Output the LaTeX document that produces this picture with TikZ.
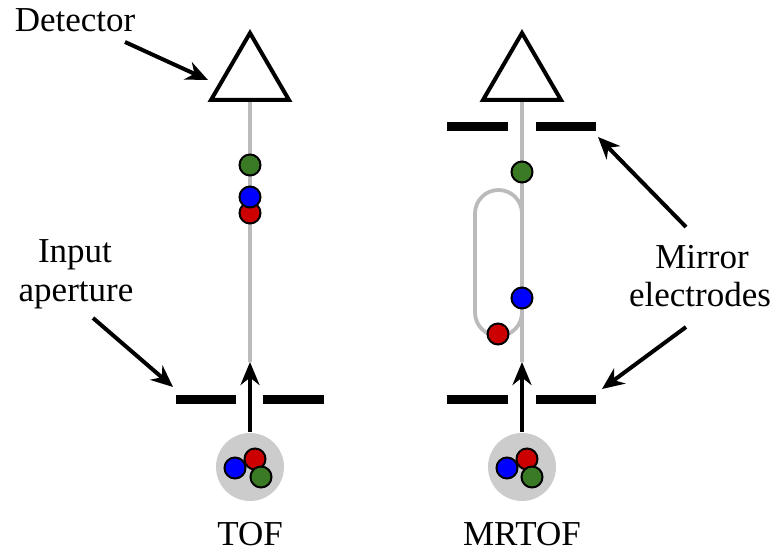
\documentclass[tikz,border=0pt]{standalone}
\usepackage{fontspec}
\setmainfont{Liberation Serif}
\usetikzlibrary{arrows.meta}

\definecolor{ionred}{HTML}{CC0000}
\definecolor{ionblue}{HTML}{0000FF}
\definecolor{iongreen}{HTML}{3A7A25}
\definecolor{pathgray}{HTML}{BBBBBB}
\definecolor{cloudgray}{HTML}{CCCCCC}

\begin{document}
\begin{tikzpicture}[x=1pt,y=-1pt,
  ion/.style={circle, draw=black, line width=2pt, minimum size=21pt, inner sep=0pt},
  flight/.style={draw=pathgray, line width=3.8pt},
  plate/.style={draw=black, line width=9pt},
  detector/.style={draw=black, fill=white, line width=4pt, line join=miter},
  beam/.style={draw=black, line width=4.5pt, -{Stealth[length=23pt,width=19pt]}},
  pointer/.style={draw=black, line width=4pt, -{Stealth[length=22pt,width=19pt]}},
  cloud/.style={circle, fill=cloudgray, minimum size=68pt, inner sep=0pt},
  lbl/.style={font=\fontsize{35}{39}\selectfont, anchor=base, inner sep=0pt}]

\useasboundingbox (0,0) rectangle (782,553);

% ---------------- TOF ----------------
\coordinate (tofTop) at (250,100);
\coordinate (tofTip) at (250,362);
\coordinate (tofSrc) at (250,432);
\draw[flight] (tofTop) -- (tofTip);
\draw[detector] (250,33) -- (211,100) -- (289,100) -- cycle;
\draw[plate] (176,399) -- (236,399);
\draw[plate] (263,399) -- (324,399);
\draw[beam] (tofSrc) -- (tofTip);
\node[cloud] (tofCloud) at (250,467) {};
\node[ion, fill=ionblue] (tofB0) at (235,468) {};
\node[ion, fill=ionred] (tofR0) at (255,459) {};
\node[ion, fill=iongreen] (tofG0) at (261,477) {};
\node[ion, fill=iongreen] (tofG) at (250,165) {};
\node[ion, fill=ionred] (tofR) at (250,213) {};
\node[ion, fill=ionblue] (tofB) at (250,197) {};
\node[lbl] (tofLabel) at (250,545) {TOF};

% ---------------- MRTOF ----------------
\coordinate (mrTop) at (522,100);
\coordinate (mrTip) at (522,362);
\coordinate (mrSrc) at (522,432);
\draw[flight] (mrTop) -- (mrTip);
\draw[flight, rounded corners=23.5pt] (475,190) rectangle (522,336);
\draw[detector] (522,33) -- (483,100) -- (561,100) -- cycle;
\draw[plate] (447,127) -- (508,127);
\draw[plate] (536,127) -- (596,127);
\draw[plate] (447,399) -- (508,399);
\draw[plate] (536,399) -- (596,399);
\draw[beam] (mrSrc) -- (mrTip);
\node[cloud] (mrCloud) at (522,467) {};
\node[ion, fill=ionblue] (mrB0) at (507,468) {};
\node[ion, fill=ionred] (mrR0) at (527,459) {};
\node[ion, fill=iongreen] (mrG0) at (532,477) {};
\node[ion, fill=iongreen] (mrG) at (522,172) {};
\node[ion, fill=ionblue] (mrB) at (522,298) {};
\node[ion, fill=ionred] (mrR) at (498,334) {};
\node[lbl] (mrLabel) at (522,545) {MRTOF};

% ---------------- labels ----------------
\node[lbl] (detText) at (75,32) {Detector};
\coordinate (detFrom) at (125,42);
\coordinate (detTo) at (208,80);
\draw[pointer] (detFrom) -- (detTo);

\node[lbl] (inText1) at (75,263) {Input};
\node[lbl] (inText2) at (76,302) {aperture};
\coordinate (inFrom) at (93,318);
\coordinate (inTo) at (173,387);
\draw[pointer] (inFrom) -- (inTo);

\node[lbl] (mirText1) at (702,269) {Mirror};
\node[lbl] (mirText2) at (700,307) {electrodes};
\coordinate (mirFromA) at (686,227);
\coordinate (mirToA) at (598,137);
\coordinate (mirFromB) at (686,327);
\coordinate (mirToB) at (602,389);
\draw[pointer] (mirFromA) -- (mirToA);
\draw[pointer] (mirFromB) -- (mirToB);
\end{tikzpicture}
\end{document}
